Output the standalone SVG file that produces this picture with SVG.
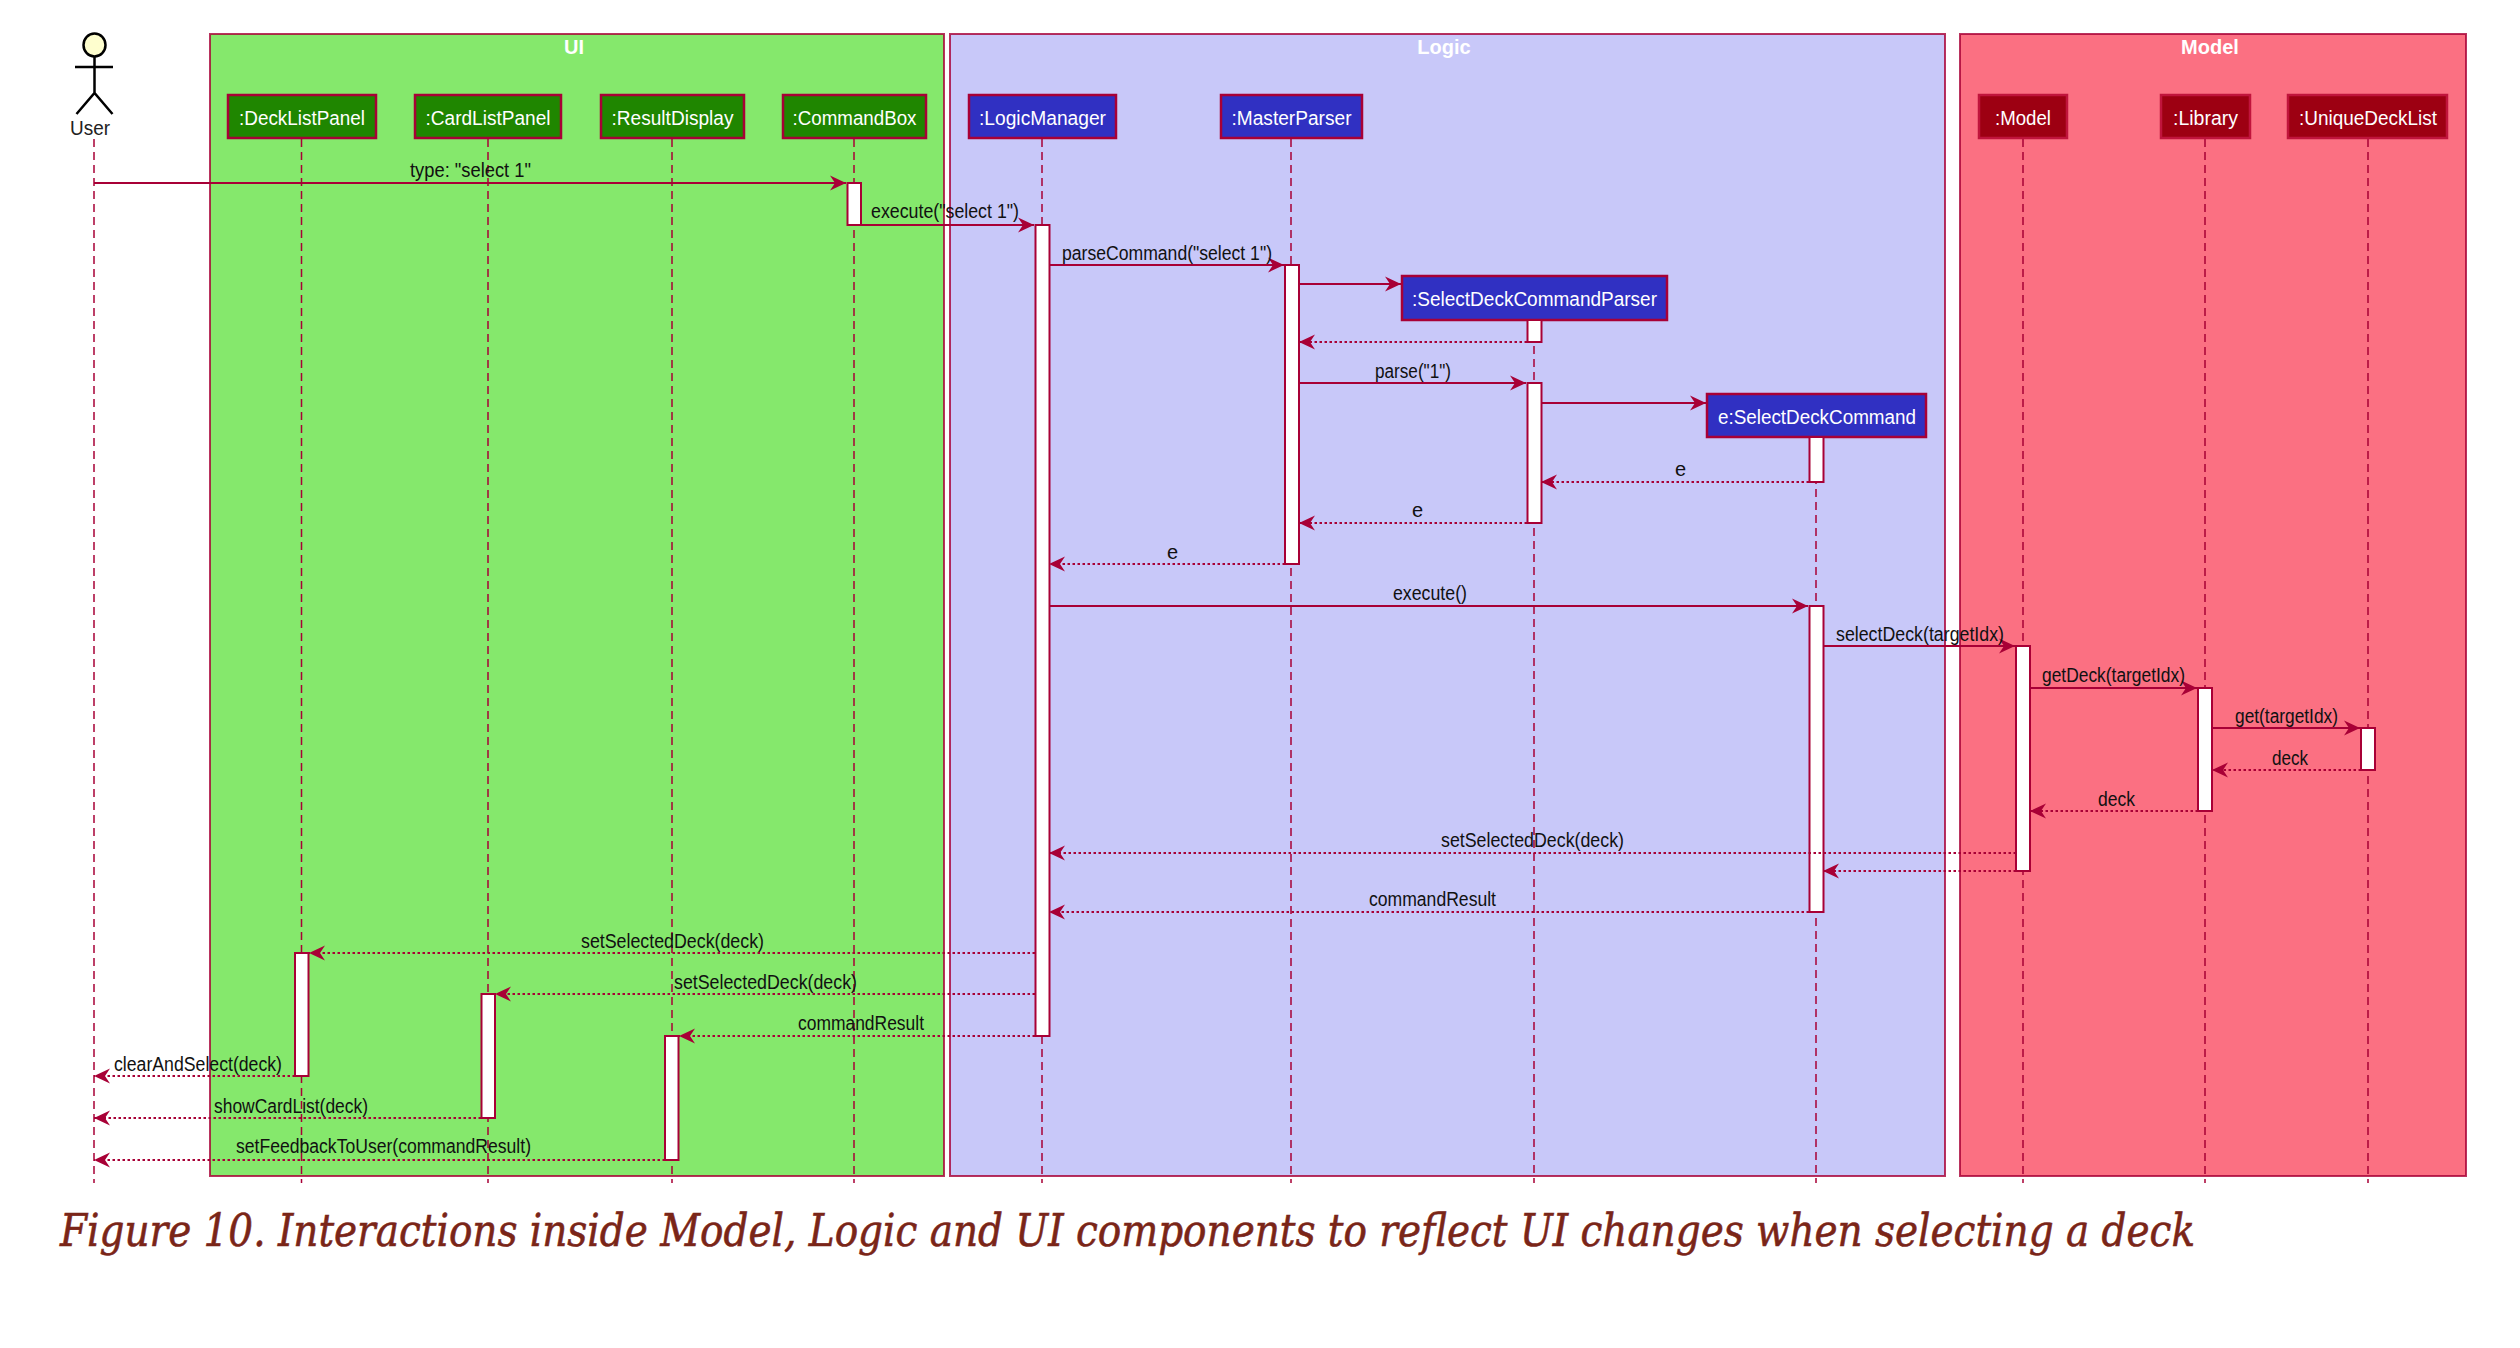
<svg xmlns="http://www.w3.org/2000/svg" width="2520" height="1348" viewBox="0 0 2520 1348">
<style>
text{font-family:"Liberation Sans",Arial,sans-serif;font-size:20px}
text.l,text.ht,text.ft{transform:translateY(1px)}
.frame{stroke:#A80036;stroke-width:2;stroke-opacity:.8}
.ft{fill:#fff;font-weight:bold;text-anchor:middle}
.h{stroke:#A80036;stroke-width:2.5}
.ht{fill:#fff;text-anchor:middle}
.ll{stroke:#A80036;stroke-width:1.5;stroke-dasharray:8 5;fill:none}
.ac{fill:#fff;stroke:#A80036;stroke-width:2}
.m{stroke:#A80036;stroke-width:2;fill:none;marker-end:url(#ah)}
.r{stroke:#A80036;stroke-width:2;stroke-dasharray:2.5 2.5;fill:none;marker-end:url(#ah)}
.l{fill:#111}
.g{fill:#1F8600}.b{fill:#3030C2}.d{fill:#9D0012;stroke:#C0143C}
</style>
<defs>
<marker id="ah" markerUnits="userSpaceOnUse" markerWidth="18" markerHeight="18" refX="16" refY="8" orient="auto" overflow="visible">
<path d="M0 0.5 L16 8 L0 15.5 L5 8 Z" fill="#A80036"/>
</marker>
</defs>
<rect width="2520" height="1348" fill="#fff"/>
<g id="frame-ui"><rect class="frame" x="210" y="34" width="734" height="1142" fill="#85E86C"/><text class="ft" x="574" y="53">UI</text></g>
<g id="frame-logic"><rect class="frame" x="950" y="34" width="995" height="1142" fill="#C8C8F9"/><text class="ft" x="1444" y="53">Logic</text></g>
<g id="frame-model"><rect class="frame" x="1960" y="34" width="506" height="1142" fill="#FB7082"/><text class="ft" x="2210" y="53">Model</text></g>

<g id="user">
<ellipse cx="94.5" cy="45" rx="11" ry="11.5" fill="#FEFECE" stroke="#000" stroke-width="2.5"/>
<path d="M94.5 56.5V93M75 67H113M76.5 114L94.5 93L112.5 114" stroke="#000" stroke-width="2.5" fill="none"/>
<text class="l" x="90" y="134" text-anchor="middle" textLength="40" lengthAdjust="spacingAndGlyphs" style="fill:#222">User</text>
<line class="ll" x1="94" y1="139" x2="94" y2="1183"/>
</g>
<g id="decklistpanel"><line class="ll" x1="301.5" y1="139" x2="301.5" y2="1183"/><rect class="h g" x="228" y="95" width="148" height="43"/><text class="ht" x="302" y="124" textLength="126" lengthAdjust="spacingAndGlyphs">:DeckListPanel</text><rect class="ac" x="295" y="953" width="13.5" height="123"/></g>
<g id="cardlistpanel"><line class="ll" x1="488" y1="139" x2="488" y2="1183"/><rect class="h g" x="415" y="95" width="146" height="43"/><text class="ht" x="488" y="124" textLength="125" lengthAdjust="spacingAndGlyphs">:CardListPanel</text><rect class="ac" x="481.5" y="994" width="13.5" height="124"/></g>
<g id="resultdisplay"><line class="ll" x1="672" y1="139" x2="672" y2="1183"/><rect class="h g" x="601" y="95" width="143" height="43"/><text class="ht" x="672.5" y="124" textLength="122" lengthAdjust="spacingAndGlyphs">:ResultDisplay</text><rect class="ac" x="665" y="1036" width="13.5" height="124"/></g>
<g id="commandbox"><line class="ll" x1="854" y1="139" x2="854" y2="1183"/><rect class="h g" x="783" y="95" width="143" height="43"/><text class="ht" x="854.5" y="124" textLength="124" lengthAdjust="spacingAndGlyphs">:CommandBox</text><rect class="ac" x="847.5" y="183" width="13.5" height="42"/></g>
<g id="logicmanager"><line class="ll" x1="1042" y1="139" x2="1042" y2="1183"/><rect class="h b" x="969" y="95" width="147" height="43"/><text class="ht" x="1042.5" y="124" textLength="127" lengthAdjust="spacingAndGlyphs">:LogicManager</text><rect class="ac" x="1035.5" y="225" width="14" height="811"/></g>
<g id="masterparser"><line class="ll" x1="1291" y1="139" x2="1291" y2="1183"/><rect class="h b" x="1221" y="95" width="141" height="43"/><text class="ht" x="1291.5" y="124" textLength="120" lengthAdjust="spacingAndGlyphs">:MasterParser</text><rect class="ac" x="1285" y="265" width="14" height="299"/></g>
<g id="selectdeckcommandparser"><line class="ll" x1="1534" y1="320" x2="1534" y2="1183"/><rect class="h b" x="1402" y="276" width="265" height="44"/><text class="ht" x="1534.5" y="305" textLength="245" lengthAdjust="spacingAndGlyphs">:SelectDeckCommandParser</text><rect class="ac" x="1527.5" y="320" width="14" height="22"/><rect class="ac" x="1527.5" y="383" width="14" height="140"/></g>
<g id="selectdeckcommand"><line class="ll" x1="1816" y1="437" x2="1816" y2="1183"/><rect class="h b" x="1707" y="394" width="219" height="43"/><text class="ht" x="1817" y="423" textLength="198" lengthAdjust="spacingAndGlyphs">e:SelectDeckCommand</text><rect class="ac" x="1809.5" y="437" width="14" height="45"/><rect class="ac" x="1809.5" y="606" width="14" height="306"/></g>
<g id="model"><line class="ll" x1="2023" y1="139" x2="2023" y2="1183"/><rect class="h d" x="1979" y="95" width="88" height="43"/><text class="ht" x="2023" y="124" textLength="56" lengthAdjust="spacingAndGlyphs">:Model</text><rect class="ac" x="2016" y="646" width="14" height="225"/></g>
<g id="library"><line class="ll" x1="2205" y1="139" x2="2205" y2="1183"/><rect class="h d" x="2161" y="95" width="89" height="43"/><text class="ht" x="2205.5" y="124" textLength="65" lengthAdjust="spacingAndGlyphs">:Library</text><rect class="ac" x="2198" y="688" width="14" height="123"/></g>
<g id="uniquedecklist"><line class="ll" x1="2368" y1="139" x2="2368" y2="1183"/><rect class="h d" x="2288" y="95" width="159" height="43"/><text class="ht" x="2368" y="124" textLength="138" lengthAdjust="spacingAndGlyphs">:UniqueDeckList</text><rect class="ac" x="2361" y="728" width="14" height="42"/></g>

<g id="connectors">
<line class="m" x1="94" y1="183" x2="846" y2="183"/>
<line class="m" x1="861" y1="225" x2="1034" y2="225"/>
<line class="m" x1="1049" y1="265" x2="1284" y2="265"/>
<line class="m" x1="1299" y1="284" x2="1401" y2="284"/>
<line class="r" x1="1527" y1="342" x2="1299" y2="342"/>
<line class="m" x1="1299" y1="383" x2="1526" y2="383"/>
<line class="m" x1="1541" y1="403" x2="1706" y2="403"/>
<line class="r" x1="1809" y1="482" x2="1541" y2="482"/>
<line class="r" x1="1527" y1="523" x2="1299" y2="523"/>
<line class="r" x1="1285" y1="564" x2="1049" y2="564"/>
<line class="m" x1="1049" y1="606" x2="1808" y2="606"/>
<line class="m" x1="1823" y1="646" x2="2015" y2="646"/>
<line class="m" x1="2030" y1="688" x2="2197" y2="688"/>
<line class="m" x1="2212" y1="728" x2="2360" y2="728"/>
<line class="r" x1="2361" y1="770" x2="2212" y2="770"/>
<line class="r" x1="2198" y1="811" x2="2030" y2="811"/>
<line class="r" x1="2016" y1="853" x2="1049" y2="853"/>
<line class="r" x1="2016" y1="871" x2="1823" y2="871"/>
<line class="r" x1="1809" y1="912" x2="1049" y2="912"/>
<line class="r" x1="1035" y1="953" x2="309" y2="953"/>
<line class="r" x1="1035" y1="994" x2="495" y2="994"/>
<line class="r" x1="1035" y1="1036" x2="679" y2="1036"/>
<line class="r" x1="295" y1="1076" x2="94" y2="1076"/>
<line class="r" x1="481" y1="1118" x2="94" y2="1118"/>
<line class="r" x1="665" y1="1160" x2="94" y2="1160"/>
<text class="l" x="410" y="176" textLength="121" lengthAdjust="spacingAndGlyphs">type: "select 1"</text>
<text class="l" x="871" y="217" textLength="148" lengthAdjust="spacingAndGlyphs">execute("select 1")</text>
<text class="l" x="1062" y="259" textLength="210" lengthAdjust="spacingAndGlyphs">parseCommand("select 1")</text>
<text class="l" x="1375" y="377" textLength="76" lengthAdjust="spacingAndGlyphs">parse("1")</text>
<text class="l" x="1675" y="475">e</text>
<text class="l" x="1412" y="516">e</text>
<text class="l" x="1167" y="558">e</text>
<text class="l" x="1393" y="599" textLength="74" lengthAdjust="spacingAndGlyphs">execute()</text>
<text class="l" x="1836" y="640" textLength="168" lengthAdjust="spacingAndGlyphs">selectDeck(targetIdx)</text>
<text class="l" x="2042" y="681" textLength="143" lengthAdjust="spacingAndGlyphs">getDeck(targetIdx)</text>
<text class="l" x="2235" y="722" textLength="103" lengthAdjust="spacingAndGlyphs">get(targetIdx)</text>
<text class="l" x="2272" y="764" textLength="36" lengthAdjust="spacingAndGlyphs">deck</text>
<text class="l" x="2098" y="805" textLength="37" lengthAdjust="spacingAndGlyphs">deck</text>
<text class="l" x="1441" y="846" textLength="183" lengthAdjust="spacingAndGlyphs">setSelectedDeck(deck)</text>
<text class="l" x="1369" y="905" textLength="127" lengthAdjust="spacingAndGlyphs">commandResult</text>
<text class="l" x="581" y="947" textLength="183" lengthAdjust="spacingAndGlyphs">setSelectedDeck(deck)</text>
<text class="l" x="674" y="988" textLength="183" lengthAdjust="spacingAndGlyphs">setSelectedDeck(deck)</text>
<text class="l" x="798" y="1029" textLength="126" lengthAdjust="spacingAndGlyphs">commandResult</text>
<text class="l" x="114" y="1070" textLength="168" lengthAdjust="spacingAndGlyphs">clearAndSelect(deck)</text>
<text class="l" x="214" y="1112" textLength="154" lengthAdjust="spacingAndGlyphs">showCardList(deck)</text>
<text class="l" x="236" y="1152" textLength="295" lengthAdjust="spacingAndGlyphs">setFeedbackToUser(commandResult)</text>
</g>
<text x="60" y="1246" textLength="2135" lengthAdjust="spacingAndGlyphs" style="font-family:'DejaVu Serif','Liberation Serif',serif;font-style:italic;font-size:44px;fill:#7A2518;stroke:#7A2518;stroke-width:.6">Figure 10. Interactions inside Model, Logic and UI components to reflect UI changes when selecting a deck</text>
</svg>
